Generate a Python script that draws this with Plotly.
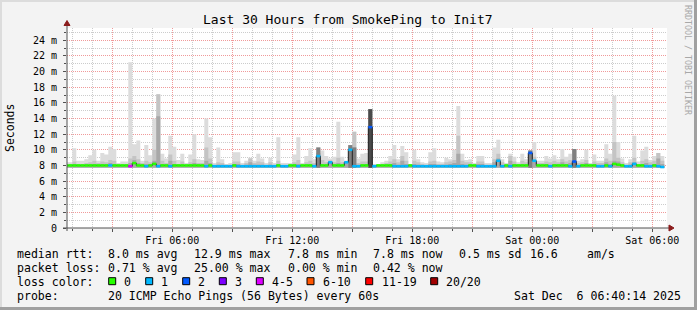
import plotly.graph_objects as go
from datetime import datetime, timedelta

# ---------------- data ----------------
START = datetime(2025, 12, 5, 0, 36)   # start of first 12-minute consolidation step
STEP_MIN = 12
X_RANGE = ["2025-12-05 00:44:06", "2025-12-06 06:44:06"]

smoke_max = [
    8.4, 8.4, 10.2, 8.6, 8.6, 8.8, 9.3, 10.0, 8.6, 9.6, 9.4, 10.4, 10.1, 8.3, 8.5, 8.5, 21.2, 10.7, 11.2, 8.6, 10.6, 9.3, 14.0, 17.1, 9.5,
    8.9, 11.8, 10.4, 8.7, 9.5, 8.3, 9.4, 12.0, 8.8, 8.7, 14.0, 11.6, 8.3, 10.3, 8.8, 8.2, 8.3, 9.7, 9.7, 8.3, 8.6, 9.0, 8.6, 9.5, 8.9,
    8.3, 9.0, 8.3, 11.6, 8.3, 8.3, 8.3, 9.4, 11.6, 8.3, 9.2, 10.2, 8.8, 10.3, 9.9, 9.2, 8.9, 9.1, 13.6, 9.1, 8.4, 10.6, 12.3, 8.9, 9.5,
    9.6, 15.2, 8.2, 8.2, 8.4, 8.6, 9.2, 10.6, 8.8, 10.5, 9.7, 8.2, 10.0, 8.8, 8.4, 8.3, 9.7, 10.2, 8.5, 8.4, 9.0, 8.8, 10.0, 15.6, 9.5,
    8.7, 8.8, 8.3, 9.2, 9.2, 8.3, 8.3, 10.3, 11.3, 8.8, 8.3, 9.5, 9.1, 8.4, 9.5, 8.8, 9.9, 11.0, 8.6, 8.6, 9.2, 8.9, 9.3, 8.8, 10.1,
    9.1, 9.5, 10.1, 8.6, 8.8, 10.0, 8.3, 9.4, 8.6, 8.6, 10.7, 9.5, 16.9, 11.0, 8.9, 8.3, 8.8, 11.8, 8.5, 9.9, 10.4, 8.7, 9.2, 9.6, 9.2,
]
smoke_mid = [
    8.1, 8.2, 8.5, 8.2, 8.2, 8.3, 8.4, 8.6, 8.3, 8.5, 8.4, 8.7, 8.6, 8.1, 8.2, 8.2, 8.9, 9.2, 8.8, 8.3, 8.6, 8.4, 10.0, 17.1, 8.6,
    8.3, 9.4, 8.6, 8.2, 8.5, 8.1, 8.4, 8.8, 8.3, 8.3, 10.3, 8.9, 8.1, 8.4, 8.3, 8.1, 8.1, 8.5, 8.5, 8.1, 8.3, 8.9, 8.3, 8.5, 8.4,
    8.1, 8.4, 8.1, 8.6, 8.1, 8.1, 8.1, 8.4, 8.7, 8.1, 8.4, 8.6, 8.3, 10.3, 8.7, 8.4, 8.6, 8.4, 9.0, 8.4, 8.6, 10.6, 12.3, 8.3, 8.5,
    8.5, 15.2, 8.1, 8.1, 8.2, 8.3, 8.5, 8.8, 8.4, 9.2, 8.6, 8.1, 8.6, 8.4, 8.2, 8.1, 8.5, 8.6, 8.2, 8.2, 8.4, 8.5, 8.7, 11.8, 8.6,
    8.4, 8.4, 8.1, 8.5, 8.5, 8.1, 8.1, 8.8, 9.5, 8.4, 8.1, 9.2, 8.5, 8.2, 8.6, 8.4, 9.9, 9.1, 8.3, 8.3, 8.5, 8.4, 8.6, 8.4, 8.8,
    8.5, 8.7, 10.1, 8.3, 8.4, 8.7, 8.1, 8.5, 8.3, 8.3, 8.9, 8.6, 11.0, 9.0, 8.4, 8.1, 8.4, 9.0, 8.2, 8.6, 8.8, 8.4, 8.6, 9.6, 8.6,
]
smoke_dark = [
    8.0, 8.0, 8.2, 8.0, 8.0, 8.1, 8.1, 8.2, 8.0, 8.2, 8.1, 8.3, 8.2, 8.0, 8.0, 8.0, 8.3, 8.7, 8.3, 8.1, 8.2, 8.1, 8.6, 14.3, 8.2,
    8.1, 8.6, 8.2, 8.0, 8.1, 8.0, 8.1, 8.3, 8.1, 8.0, 8.6, 8.3, 8.0, 8.1, 8.1, 8.0, 8.0, 8.2, 8.2, 8.0, 8.1, 8.4, 8.1, 8.1, 8.1,
    8.0, 8.1, 8.0, 8.2, 8.0, 8.0, 8.0, 8.1, 8.2, 8.0, 8.1, 8.2, 8.1, 9.6, 8.2, 8.1, 8.6, 8.1, 8.3, 8.1, 8.5, 10.3, 10.3, 8.1, 8.1,
    8.2, 15.2, 8.0, 8.0, 8.0, 8.1, 8.2, 8.3, 8.1, 8.6, 8.2, 8.0, 8.2, 8.1, 8.0, 8.0, 8.2, 8.2, 8.0, 8.0, 8.1, 8.2, 8.3, 9.5, 8.2,
    8.1, 8.1, 8.0, 8.2, 8.2, 8.0, 8.0, 8.4, 8.9, 8.1, 8.0, 8.6, 8.2, 8.0, 8.2, 8.1, 9.9, 8.7, 8.1, 8.1, 8.2, 8.1, 8.2, 8.1, 8.4,
    8.2, 8.3, 10.1, 8.1, 8.1, 8.3, 8.0, 8.2, 8.1, 8.1, 8.4, 8.2, 8.6, 8.5, 8.1, 8.0, 8.1, 8.4, 8.0, 8.2, 8.3, 8.1, 8.2, 8.9, 8.2,
]
core_idx = [63, 71, 72, 76, 116, 127]
core_top = [10.3, 10.6, 10.3, 15.2, 9.9, 10.1]
SMOKE_BASE = 7.7

median = [
    8.0, 8.0, 8.0, 8.0, 8.0, 8.0, 8.0, 8.0, 8.0, 8.0, 8.0, 8.0, 8.0, 8.0, 8.0, 8.0, 7.9, 8.3, 8.0, 8.0, 7.9, 8.0, 8.2, 7.9, 8.0,
    8.0, 7.9, 8.0, 8.0, 8.0, 8.0, 8.0, 8.0, 8.0, 8.0, 7.9, 8.0, 7.9, 7.9, 7.9, 7.9, 7.9, 8.0, 7.9, 7.9, 7.9, 7.9, 7.9, 7.9, 7.9,
    7.9, 7.9, 7.9, 8.0, 7.9, 7.9, 8.0, 8.0, 7.9, 8.0, 8.0, 8.0, 7.9, 9.2, 8.0, 8.0, 8.4, 8.0, 8.0, 8.0, 8.4, 10.0, 7.9, 7.9, 8.0,
    8.0, 12.9, 7.9, 8.0, 8.0, 8.0, 8.0, 7.9, 7.9, 7.9, 7.9, 8.0, 7.9, 7.9, 7.9, 7.9, 7.9, 7.9, 7.9, 7.9, 7.9, 7.9, 7.9, 7.9, 7.9,
    7.9, 8.0, 8.0, 7.9, 7.9, 7.9, 7.9, 7.9, 8.6, 7.9, 8.0, 7.9, 8.0, 8.0, 8.0, 8.0, 9.6, 8.6, 8.0, 8.0, 8.0, 7.9, 8.0, 8.0, 8.0,
    8.0, 7.9, 8.5, 7.9, 8.0, 8.0, 8.0, 8.0, 7.9, 7.9, 8.0, 7.9, 8.2, 8.1, 8.0, 7.9, 7.9, 8.2, 8.0, 8.0, 7.9, 7.9, 8.0, 7.9, 7.8,
]
loss = [
    0, 0, 0, 0, 0, 0, 0, 0, 0, 0, 0, 1, 0, 0, 0, 0, 4, 0, 0, 0, 1, 0, 0, 1, 0,
    0, 1, 0, 0, 0, 0, 0, 0, 0, 0, 1, 0, 1, 1, 1, 1, 1, 0, 1, 1, 1, 1, 1, 1, 1,
    1, 1, 1, 0, 1, 1, 0, 0, 1, 0, 0, 0, 1, 1, 0, 0, 1, 0, 0, 0, 1, 1, 1, 1, 0,
    0, 2, 1, 0, 0, 0, 0, 1, 1, 1, 1, 0, 1, 1, 1, 1, 1, 1, 1, 1, 1, 1, 1, 1, 1,
    1, 0, 0, 1, 1, 1, 1, 1, 1, 1, 0, 1, 0, 0, 0, 0, 2, 1, 0, 0, 0, 1, 0, 0, 0,
    0, 1, 2, 1, 0, 0, 0, 0, 1, 1, 0, 1, 0, 0, 0, 1, 1, 1, 0, 0, 1, 1, 0, 1, 1,
]

loss_labels = ["0", "1", "2", "3", "4-5", "6-10", "11-19", "20/20"]
loss_colors = ["#26ff00", "#00b8ff", "#0059ff", "#7e00ff", "#dd00ff", "#ff5500", "#ff0000", "#a10000"]
loss_upper = [0, 1, 2, 3, 5, 10, 19, 20]

y_tick_vals = list(range(0, 25, 2))
y_tick_text = ["0"] + [f"{v} m" for v in range(2, 25, 2)]
x_tick_vals = ["2025-12-05 03:00", "2025-12-05 06:00", "2025-12-05 09:00", "2025-12-05 12:00",
               "2025-12-05 15:00", "2025-12-05 18:00", "2025-12-05 21:00", "2025-12-06 00:00",
               "2025-12-06 03:00", "2025-12-06 06:00"]
x_tick_text = ["", "Fri 06:00", "", "Fri 12:00", "", "Fri 18:00", "", "Sat 00:00", "", "Sat 06:00"]

title_text = "Last 30 Hours from SmokePing to Init7"
rtt_items = ["median rtt:", "8.0 ms avg", "12.9 ms max", "7.8 ms min", "7.8 ms now", "0.5 ms sd", "16.6", "am/s"]
loss_items = ["packet loss:", "0.71 % avg", "25.00 % max", "0.00 % min", "0.42 % now"]
probe_items = ["probe:", "20 ICMP Echo Pings (56 Bytes) every 60s", "Sat Dec  6 06:40:14 2025"]

# ---------------- layout helpers (pixel -> paper) ----------------
W_PX, H_PX = 697, 310
PL, PR, PT, PB = 67, 667, 28, 228
def px(x):
    return (x - PL) / (PR - PL)
def py(y):
    return (PB - y) / (PB - PT)

MONO = "DejaVu Sans Mono"
n = len(median)
step = timedelta(minutes=STEP_MIN)
starts = [START + step * i for i in range(n)]
ends = [s + step for s in starts]
step_x = starts + [ends[-1]]

fig = go.Figure()

def smoke_layer(tops, col):
    # invisible base, then filled step area up to the layer's top
    fig.add_scatter(x=step_x, y=[SMOKE_BASE] * (n + 1), mode="lines",
                    line=dict(width=0, shape="hv", color=col), hoverinfo="skip")
    fig.add_scatter(x=step_x, y=list(tops) + [tops[-1]], mode="lines", fill="tonexty",
                    fillcolor=col, line=dict(width=0, shape="hv", color=col), hoverinfo="skip")

smoke_layer(smoke_max, "#dcdcdc")
smoke_layer(smoke_mid, "#c4c4c4")
smoke_layer(smoke_dark, "#a8a8a8")

# darkest core columns at the big spikes
for i, t in zip(core_idx, core_top):
    col = "#4a4a4a" if t > 14 else "#808080"
    fig.add_scatter(x=[starts[i], starts[i], ends[i], ends[i], starts[i]],
                    y=[SMOKE_BASE, t, t, SMOKE_BASE, SMOKE_BASE], mode="lines", fill="toself",
                    fillcolor=col, line=dict(width=0, color=col), hoverinfo="skip")

# black median connector
fig.add_scatter(x=step_x, y=median + [median[-1]], mode="lines",
                line=dict(color="#202020", width=1, shape="hv"), hoverinfo="skip")

def loss_bin(v):
    for k, up in enumerate(loss_upper):
        if v <= up:
            return k
    return len(loss_upper) - 1

for k, col in enumerate(loss_colors):
    xs, ys = [], []
    for i in range(n):
        if loss_bin(loss[i]) == k:
            xs += [starts[i], ends[i], None]
            ys += [median[i], median[i], None]
    if xs:
        fig.add_scatter(x=xs, y=ys, mode="lines", line=dict(color=col, width=2.6),
                        hoverinfo="skip", connectgaps=False)

shapes = []
# frame
shapes.append(dict(type="rect", xref="paper", yref="paper", x0=px(0), x1=px(W_PX), y0=py(307), y1=py(310),
                   fillcolor="#a0a0a0", line=dict(width=0), layer="below"))
shapes.append(dict(type="rect", xref="paper", yref="paper", x0=px(694), x1=px(W_PX), y0=py(0), y1=py(310),
                   fillcolor="#a0a0a0", line=dict(width=0), layer="below"))
shapes.append(dict(type="rect", xref="paper", yref="paper", x0=px(0), x1=px(694), y0=py(0), y1=py(2),
                   fillcolor="#dcdcdc", line=dict(width=0), layer="below"))
shapes.append(dict(type="rect", xref="paper", yref="paper", x0=px(0), x1=px(2), y0=py(0), y1=py(307),
                   fillcolor="#dcdcdc", line=dict(width=0), layer="below"))
# axes with arrows
shapes.append(dict(type="line", xref="paper", yref="paper", x0=px(67), x1=px(67), y0=py(231), y1=py(24),
                   line=dict(color="#505050", width=1)))
shapes.append(dict(type="line", xref="paper", yref="paper", x0=px(63), x1=px(670), y0=py(228), y1=py(228),
                   line=dict(color="#505050", width=1)))
shapes.append(dict(type="path", xref="paper", yref="paper",
                   path=f"M {px(67)} {py(20.5)} L {px(64)} {py(25.5)} L {px(70)} {py(25.5)} Z",
                   fillcolor="#8b1c1c", line=dict(color="#8b1c1c", width=1)))
shapes.append(dict(type="path", xref="paper", yref="paper",
                   path=f"M {px(674)} {py(228)} L {px(669)} {py(225)} L {px(669)} {py(231)} Z",
                   fillcolor="#8b1c1c", line=dict(color="#8b1c1c", width=1)))

ann = []
ann.append(dict(text=title_text, x=px(348), y=py(19), xref="paper", yref="paper", showarrow=False,
                xanchor="center", yanchor="middle", font=dict(family=MONO, size=13, color="#000")))
ann.append(dict(text="Seconds", x=px(10), y=py(128), xref="paper", yref="paper", showarrow=False,
                textangle=-90, xanchor="center", yanchor="middle", font=dict(family=MONO, size=11.5, color="#000")))
ann.append(dict(text="RRDTOOL / TOBI OETIKER", x=px(688), y=py(60), xref="paper", yref="paper", showarrow=False,
                textangle=90, xanchor="center", yanchor="middle", font=dict(family=MONO, size=8.3, color="#a8a8a8")))

LEG_SIZE = 11.55
def row(items, xs, y):
    for t, x in zip(items, xs):
        ann.append(dict(text=t.replace(" ", "&nbsp;"), x=px(x), y=py(y), xref="paper", yref="paper",
                        showarrow=False, xanchor="left", yanchor="middle", borderpad=0,
                        font=dict(family=MONO, size=LEG_SIZE, color="#000")))

row(rtt_items, [16, 107.3, 192.7, 286.7, 372.3, 458.3, 529.3, 586], 254.3)
row(loss_items, [16, 107.3, 192.7, 286.7, 372.3], 268)
row(["loss color:"], [16], 282.3)
row(probe_items, [16, 107.3, 513.3], 296)

box_x = [108.7, 145.7, 182.7, 219.3, 256.3, 307, 365.7, 430.7]
lab_x = [123.3, 160, 197, 234, 271, 322, 380.7, 445.3]
for bx, lx, lab, col in zip(box_x, lab_x, loss_labels, loss_colors):
    shapes.append(dict(type="rect", xref="paper", yref="paper", x0=px(bx), x1=px(bx + 7),
                       y0=py(284.7), y1=py(277.7), fillcolor=col, line=dict(color="#000", width=1)))
    row([lab], [lx], 282.3)

fig.update_layout(
    width=W_PX, height=H_PX, autosize=False,
    margin=dict(l=PL, r=W_PX - PR, t=PT, b=H_PX - PB, pad=0),
    paper_bgcolor="#f3f3f3", plot_bgcolor="#ffffff",
    showlegend=False,
    shapes=shapes, annotations=ann,
    xaxis=dict(type="date", range=X_RANGE, tickvals=x_tick_vals, ticktext=x_tick_text,
               showgrid=True, gridcolor="#f09a9a", griddash="1px,1px", gridwidth=1,
               ticks="outside", ticklen=3, tickcolor="#505050", showline=False, zeroline=False,
               tickfont=dict(family=MONO, size=10, color="#000"),
               minor=dict(dtick=3600000, tick0="2025-12-05 00:00", showgrid=True, gridcolor="#cccccc",
                          griddash="1px,1px", ticks="outside", ticklen=2, tickcolor="#505050")),
    yaxis=dict(range=[0, 25.58], tickvals=y_tick_vals, ticktext=y_tick_text,
               showgrid=True, gridcolor="#f09a9a", griddash="1px,1px", gridwidth=1,
               ticks="outside", ticklen=3, tickcolor="#505050", showline=False, zeroline=False,
               ticklabelstandoff=4,
               tickfont=dict(family=MONO, size=10, color="#000"),
               minor=dict(dtick=1, showgrid=True, gridcolor="#cccccc", griddash="1px,1px",
                          ticks="outside", ticklen=2, tickcolor="#505050")),
)

fig.write_html("out.html")
